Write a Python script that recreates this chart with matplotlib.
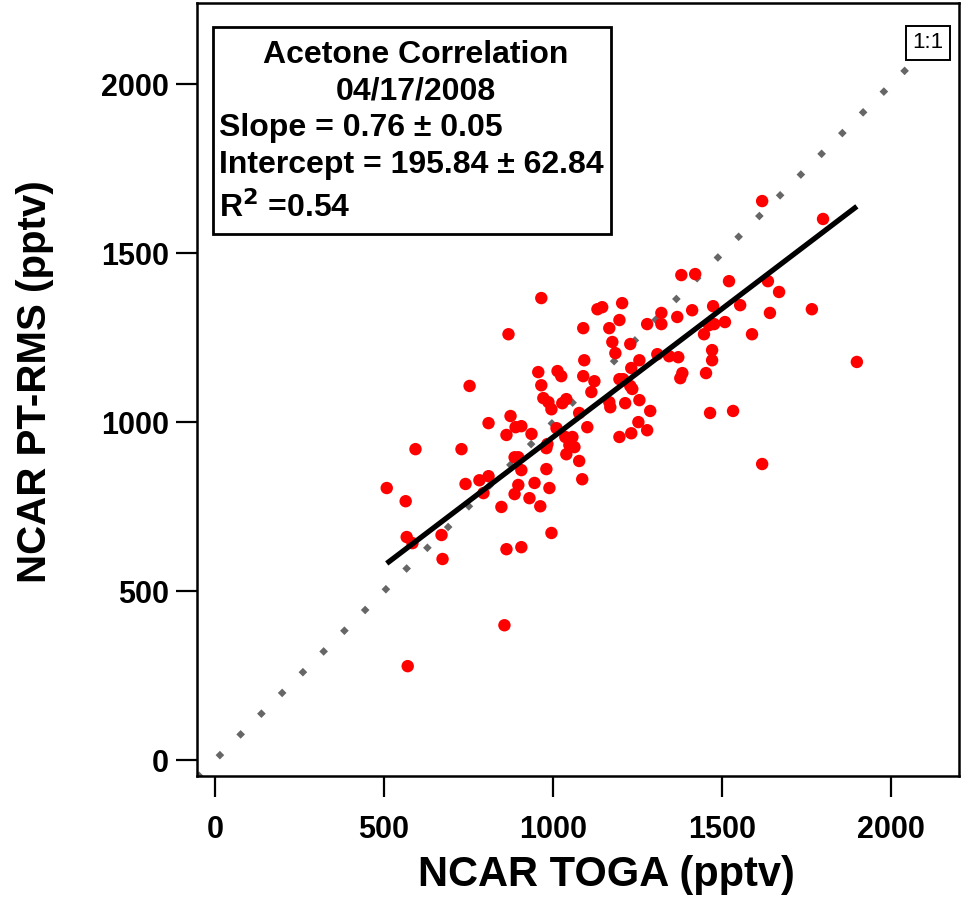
import matplotlib
matplotlib.use("Agg")
import matplotlib.pyplot as plt
from matplotlib.patches import Rectangle
import numpy as np

plt.rcParams['font.family'] = ['Liberation Sans', 'DejaVu Sans']
plt.rcParams['font.weight'] = 'bold'

toga = [965, 868, 753, 1131, 1145, 1204, 1089, 1166, 1196, 1175, 1184, 1092, 956, 1013, 1024,
        1089, 1122, 965, 1113, 1196, 1207, 1231, 1255, 1228, 1278, 1320, 1320, 1308, 1343, 1370,
        1228, 1234, 971, 986, 995, 1027, 1039, 1077, 1166, 1169, 1213, 1255, 1287, 1252, 874,
        809, 889, 906, 1101, 1278, 1231, 1196, 1010, 936, 1036, 1057, 1048, 1063, 983, 980,
        1039, 1077, 1086, 862, 593, 729, 886, 897, 906, 980, 508, 564, 741, 782, 809,
        794, 897, 886, 945, 930, 989, 962, 847, 567, 584, 670, 673, 862, 906, 995,
        856, 570, 1618, 1798, 1379, 1420, 1520, 1635, 1668, 1765, 1641, 1553, 1473, 1411, 1367,
        1508, 1476, 1461, 1446, 1588, 1382, 1376, 1470, 1470, 1452, 1898, 1464, 1532, 1618]
ptrms = [1367, 1260, 1107, 1334, 1340, 1352, 1278, 1278, 1302, 1237, 1204, 1183, 1148, 1151, 1136,
         1136, 1121, 1109, 1089, 1127, 1127, 1160, 1183, 1231, 1290, 1323, 1290, 1201, 1195, 1192,
         1107, 1098, 1071, 1059, 1038, 1056, 1068, 1027, 1059, 1044, 1056, 1065, 1033, 1000, 1018,
         997, 985, 988, 985, 976, 967, 956, 982, 965, 956, 956, 932, 926, 935, 923,
         905, 885, 831, 962, 920, 920, 896, 896, 858, 861, 805, 766, 817, 828, 840,
         790, 814, 787, 820, 775, 805, 751, 749, 660, 642, 666, 595, 624, 630, 672,
         399, 278, 1654, 1601, 1435, 1438, 1417, 1417, 1385, 1334, 1323, 1346, 1343, 1331, 1311,
         1296, 1290, 1287, 1260, 1260, 1145, 1130, 1213, 1183, 1145, 1178, 1027, 1033, 876]

slope = 0.76
intercept = 195.84
x_ticks = [0, 500, 1000, 1500, 2000]
y_ticks = [0, 500, 1000, 1500, 2000]
xlim = (-53, 2200)
ylim = (-47, 2240)

title_lines = ["Acetone Correlation", "04/17/2008"]
stat_lines = ["Slope = 0.76 \u00b1 0.05", "Intercept = 195.84 \u00b1 62.84", "R$^2$ =0.54"]

W, H = 961, 901
fig = plt.figure(figsize=(W / 100, H / 100), dpi=100)
ax = fig.add_axes([197 / W, (H - 776) / H, (959 - 197) / W, (776 - 3) / H])

# 1:1 line
ax.plot(xlim, xlim, color='#666666', lw=4.4, linestyle=(0, (1.0, 3.8)),
        dash_capstyle='butt', zorder=1)

# regression line
xr = np.array([min(toga), max(toga)])
ax.plot(xr, intercept + slope * xr, color='black', lw=3.8, zorder=3, solid_capstyle='butt')

ax.scatter(toga, ptrms, s=80, color='#ff0000', edgecolors='none', zorder=2)

ax.set_xlim(*xlim)
ax.set_ylim(*ylim)
ax.set_xticks(x_ticks)
ax.set_yticks(y_ticks)
ax.tick_params(direction='out', length=15, width=1.6, labelsize=22, pad=5)
ax.tick_params(axis='x', pad=13)
for s in ax.spines.values():
    s.set_linewidth(1.8)

ax.set_xlabel("NCAR TOGA (pptv)", fontsize=30, fontweight='bold', va='center')
ax.set_ylabel("NCAR PT-RMS (pptv)", fontsize=29, fontweight='bold', va='center')
ax.xaxis.set_label_coords((606 - 197) / 762, (776 - 875) / 773)
ax.yaxis.set_label_coords((35 - 197) / 762, (776 - 382) / 773)

# annotation box
def fx(px):
    return px / W

def fy(py):
    return 1 - py / H

fig.patches.append(Rectangle((fx(213), fy(234)), fx(611) - fx(213), fy(27) - fy(234),
                             transform=fig.transFigure, fill=True, facecolor='white',
                             edgecolor='black', lw=2, zorder=5))
fig.text(fx(416), fy(55), title_lines[0], ha='center', va='center', fontsize=23, fontweight='bold', zorder=6)
fig.text(fx(416), fy(91), title_lines[1], ha='center', va='center', fontsize=23, fontweight='bold', zorder=6)
fig.text(fx(219), fy(128), stat_lines[0], ha='left', va='center', fontsize=23, fontweight='bold', zorder=6)
fig.text(fx(219), fy(165), stat_lines[1], ha='left', va='center', fontsize=23, fontweight='bold', zorder=6)
fig.text(fx(219), fy(208), stat_lines[2], ha='left', va='center', fontsize=23, fontweight='bold', zorder=6)

# 1:1 label
fig.text(fx(928), fy(43), "1:1", ha='center', va='center', fontsize=16, fontweight='normal',
         bbox=dict(boxstyle='square,pad=0.3', facecolor='white', edgecolor='black', lw=1.4), zorder=6)

fig.savefig("out.png", dpi=100)
